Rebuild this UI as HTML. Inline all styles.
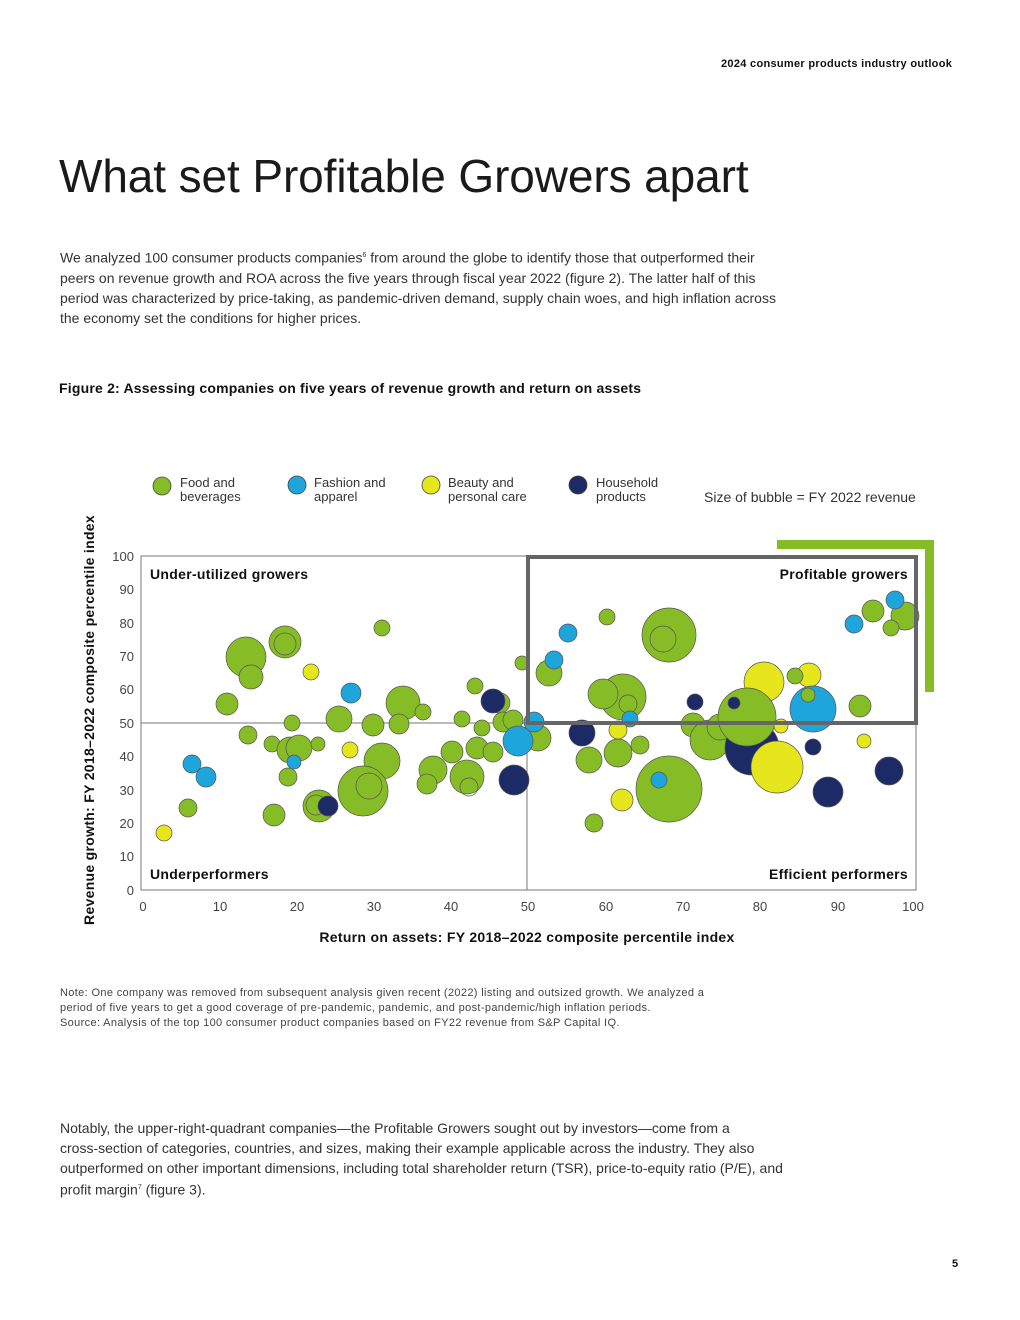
<!DOCTYPE html>
<html><head><meta charset="utf-8"><style>
body{margin:0;background:#fff;}
.pg{position:relative;width:1020px;height:1320px;font-family:"Liberation Sans",sans-serif;color:#111;overflow:hidden}
.a{position:absolute;white-space:nowrap}
</style></head><body><div class="pg">
<div class="a" style="left:721px;top:58px;font-size:11px;font-weight:bold;letter-spacing:0.3px">2024 consumer products industry outlook</div>
<div class="a" style="left:59px;top:149px;font-size:46px;letter-spacing:-0.1px;color:#1a1a1a">What set Profitable Growers apart</div>
<div class="a" style="left:60px;top:246px;font-size:14px;line-height:20px;color:#333">We analyzed 100 consumer products companies<sup style="font-size:7px">6</sup> from around the globe to identify those that outperformed their<br>peers on revenue growth and ROA across the five years through fiscal year 2022 (figure 2). The latter half of this<br>period was characterized by price-taking, as pandemic-driven demand, supply chain woes, and high inflation across<br>the economy set the conditions for higher prices.</div>
<div class="a" style="left:59px;top:380px;font-size:14px;font-weight:bold;letter-spacing:0.2px">Figure 2: Assessing companies on five years of revenue growth and return on assets</div>
<div class="a" style="left:704px;top:489px;font-size:14px;color:#333">Size of bubble = FY 2022 revenue</div>
<div class="a" style="left:180px;top:476px;font-size:13px;line-height:14px;color:#333">Food and<br>beverages</div>
<div class="a" style="left:314px;top:476px;font-size:13px;line-height:14px;color:#333">Fashion and<br>apparel</div>
<div class="a" style="left:448px;top:476px;font-size:13px;line-height:14px;color:#333">Beauty and<br>personal care</div>
<div class="a" style="left:596px;top:476px;font-size:13px;line-height:14px;color:#333">Household<br>products</div>
<svg class="a" style="left:0;top:0" width="1020" height="1320">
<g stroke="#444" stroke-width="0.8">
<circle cx="162" cy="486" r="9" fill="#86bc25"/><circle cx="297" cy="485" r="9" fill="#1ea5dc"/>
<circle cx="431" cy="485" r="9" fill="#e6e61c"/><circle cx="578" cy="485" r="9" fill="#1c2a66"/></g>
<rect x="777" y="540" width="157" height="9" fill="#86bc25"/><rect x="925" y="540" width="9" height="152" fill="#86bc25"/>
<rect x="141" y="556" width="775" height="334" fill="none" stroke="#777" stroke-width="1"/>
<line x1="141" y1="723" x2="527" y2="723" stroke="#777"/><line x1="527" y1="723" x2="527" y2="890" stroke="#777"/>
<g stroke="#555" stroke-width="0.7">
<g fill="#86bc25">
<circle cx="246" cy="657" r="20"/><circle cx="251" cy="677" r="12"/><circle cx="285" cy="642" r="16"/><circle cx="285" cy="644" r="11" fill="none"/>
<circle cx="382" cy="628" r="8"/><circle cx="227" cy="704" r="11"/><circle cx="403" cy="703" r="17"/><circle cx="423" cy="712" r="8"/>
<circle cx="475" cy="686" r="8"/><circle cx="500" cy="703" r="10"/><circle cx="339" cy="719" r="13"/><circle cx="292" cy="723" r="8"/>
<circle cx="373" cy="725" r="11"/><circle cx="399" cy="724" r="10"/><circle cx="462" cy="719" r="8"/><circle cx="482" cy="728" r="8"/>
<circle cx="503" cy="722" r="10"/><circle cx="513" cy="720" r="10"/><circle cx="248" cy="735" r="9"/><circle cx="272" cy="744" r="8"/>
<circle cx="290" cy="750" r="13"/><circle cx="299" cy="748" r="13"/><circle cx="318" cy="744" r="7"/><circle cx="382" cy="761" r="18"/>
<circle cx="363" cy="791" r="25"/><circle cx="369" cy="786" r="13" fill="none"/><circle cx="433" cy="770" r="14"/><circle cx="427" cy="784" r="10"/>
<circle cx="467" cy="777" r="17"/><circle cx="469" cy="787" r="9" fill="none"/><circle cx="452" cy="752" r="11"/><circle cx="477" cy="748" r="11"/>
<circle cx="493" cy="752" r="10"/><circle cx="538" cy="738" r="13"/><circle cx="288" cy="777" r="9"/><circle cx="319" cy="806" r="16"/><circle cx="316" cy="805" r="10" fill="none"/>
<circle cx="188" cy="808" r="9"/><circle cx="274" cy="815" r="11"/><circle cx="522" cy="663" r="7"/>
<circle cx="607" cy="617" r="8"/><circle cx="669" cy="635" r="27"/><circle cx="663" cy="639" r="13" fill="none"/><circle cx="549" cy="673" r="13"/>
<circle cx="623" cy="697" r="23"/><circle cx="603" cy="694" r="15"/><circle cx="628" cy="704" r="9" fill="none"/><circle cx="693" cy="725" r="12"/>
<circle cx="710" cy="740" r="20"/><circle cx="720" cy="727" r="13"/>
<circle cx="589" cy="760" r="13"/><circle cx="618" cy="753" r="14"/><circle cx="640" cy="745" r="9"/><circle cx="669" cy="789" r="33"/><circle cx="594" cy="823" r="9"/>
<circle cx="860" cy="706" r="11"/><circle cx="873" cy="611" r="11"/><circle cx="905" cy="616" r="14"/><circle cx="891" cy="628" r="8"/>
</g>
<circle cx="752" cy="748" r="27" fill="#1c2a66"/>
<circle cx="764" cy="682" r="20" fill="#e6e61c"/>
<circle cx="747" cy="717" r="29" fill="#86bc25"/>
<circle cx="734" cy="703" r="6" fill="#1c2a66"/>
<circle cx="781" cy="726" r="7" fill="#e6e61c"/><circle cx="777" cy="767" r="26" fill="#e6e61c"/>
<circle cx="809" cy="675" r="12" fill="#e6e61c"/><circle cx="795" cy="676" r="8" fill="#86bc25"/>
<circle cx="813" cy="709" r="23" fill="#1ea5dc"/><circle cx="808" cy="695" r="7" fill="#86bc25"/>
<g fill="#1ea5dc">
<circle cx="351" cy="693" r="10"/><circle cx="294" cy="762" r="7"/><circle cx="192" cy="764" r="9"/><circle cx="206" cy="777" r="10"/>
<circle cx="518" cy="741" r="15"/><circle cx="534" cy="722" r="10"/><circle cx="568" cy="633" r="9"/><circle cx="554" cy="660" r="9"/>
<circle cx="630" cy="719" r="8"/><circle cx="854" cy="624" r="9"/><circle cx="895" cy="600" r="9"/><circle cx="659" cy="780" r="8"/></g>
<g fill="#1c2a66">
<circle cx="493" cy="701" r="12"/><circle cx="514" cy="780" r="15"/><circle cx="328" cy="806" r="10"/><circle cx="695" cy="702" r="8"/>
<circle cx="813" cy="747" r="8"/><circle cx="889" cy="771" r="14"/><circle cx="828" cy="792" r="15"/><circle cx="582" cy="733" r="13"/></g>
<g fill="#e6e61c">
<circle cx="311" cy="672" r="8"/><circle cx="350" cy="750" r="8"/><circle cx="164" cy="833" r="8"/><circle cx="864" cy="741" r="7"/>
<circle cx="618" cy="730" r="9"/><circle cx="622" cy="800" r="11"/></g>
</g>
<rect x="528" y="557" width="388" height="166" fill="none" stroke="#666" stroke-width="4"/>
<g font-family="Liberation Sans" font-size="13" fill="#444" text-anchor="end">
<text x="134" y="561">100</text><text x="134" y="594">90</text><text x="134" y="628">80</text><text x="134" y="661">70</text>
<text x="134" y="694">60</text><text x="134" y="728">50</text><text x="134" y="761">40</text><text x="134" y="795">30</text>
<text x="134" y="828">20</text><text x="134" y="861">10</text><text x="134" y="895">0</text></g>
<g font-family="Liberation Sans" font-size="13" fill="#444" text-anchor="middle">
<text x="143" y="911">0</text><text x="220" y="911">10</text><text x="297" y="911">20</text><text x="374" y="911">30</text>
<text x="451" y="911">40</text><text x="528" y="911">50</text><text x="606" y="911">60</text><text x="683" y="911">70</text>
<text x="760" y="911">80</text><text x="838" y="911">90</text><text x="913" y="911">100</text></g>
<g font-family="Liberation Sans" font-size="14" font-weight="bold" fill="#111" letter-spacing="0.3">
<text x="150" y="579">Under-utilized growers</text><text x="908" y="579" text-anchor="end">Profitable growers</text>
<text x="150" y="879">Underperformers</text><text x="908" y="879" text-anchor="end">Efficient performers</text>
<text x="527" y="942" text-anchor="middle">Return on assets: FY 2018–2022 composite percentile index</text>
<text transform="translate(94,720) rotate(-90)" text-anchor="middle">Revenue growth: FY 2018–2022 composite percentile index</text>
</g>
</svg>
<div class="a" style="left:60px;top:986px;font-size:11px;line-height:15px;color:#444;letter-spacing:0.35px">Note: One company was removed from subsequent analysis given recent (2022) listing and outsized growth. We analyzed a<br>period of five years to get a good coverage of pre-pandemic, pandemic, and post-pandemic/high inflation periods.<br>Source: Analysis of the top 100 consumer product companies based on FY22 revenue from S&amp;P Capital IQ.</div>
<div class="a" style="left:60px;top:1118px;font-size:14px;line-height:20px;color:#333;white-space:normal;width:740px">Notably, the upper-right-quadrant companies—the Profitable Growers sought out by investors—come from a<br>cross-section of categories, countries, and sizes, making their example applicable across the industry. They also outperformed on other important dimensions, including total shareholder return (TSR), price-to-equity ratio (P/E), and profit margin<sup style="font-size:7px">7</sup> (figure 3).</div>
<div class="a" style="left:952px;top:1258px;font-size:11px;font-weight:bold">5</div>
</div></body></html>
